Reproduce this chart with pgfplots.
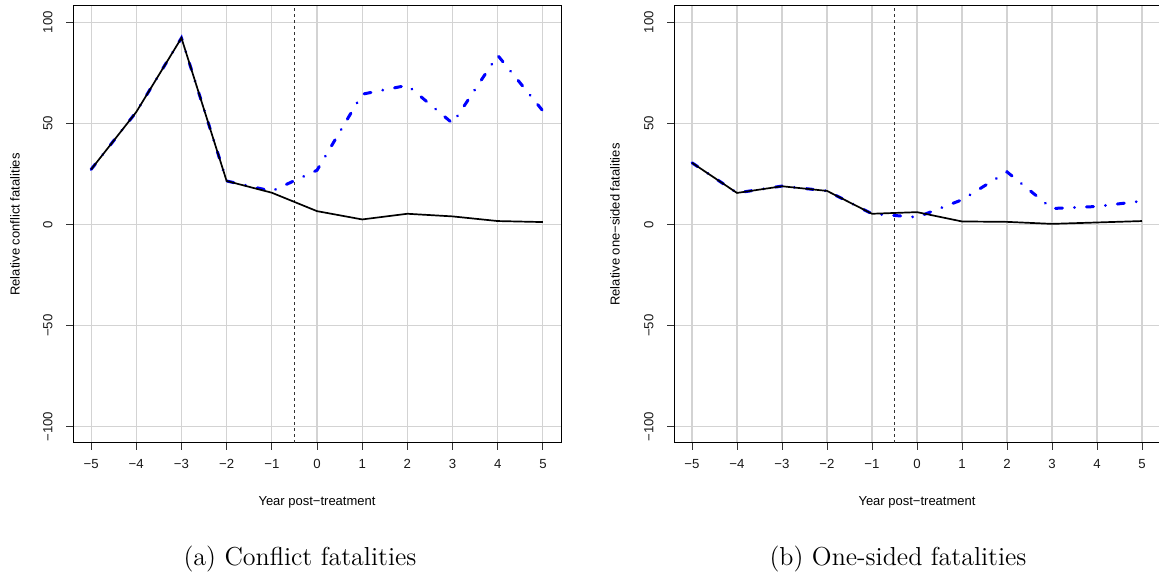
\documentclass[border=0pt]{standalone}
\usepackage{fontspec}
\setsansfont{Liberation Sans}
\usepackage{pgfplots}
\pgfplotsset{compat=1.18}
\definecolor{gridgray}{HTML}{D3D3D3}
\definecolor{rblue}{RGB}{0,0,255}
\pgfplotsset{
  rstyle/.style={
    scale only axis,
    width=244pt, height=218.5pt,
    xmin=-5.4, xmax=5.4, ymin=-108, ymax=108,
    xtick={-5,-4,-3,-2,-1,0,1,2,3,4,5},
    xticklabels={−5,−4,−3,−2,−1,0,1,2,3,4,5},
    ytick={-100,-50,0,50,100},
    yticklabels={−100,−50,0,50,100},
    xtick pos=left, ytick pos=left,
    tick align=outside,
    major tick length=3.5pt,
    tick style={black!80, line width=0.5pt},
    axis line style={line width=0.5pt},
    grid=major,
    major grid style={gridgray, line width=0.55pt},
    every tick label/.append style={font=\sffamily\fontsize{6.6}{7}\selectfont, text=black!90},
    xticklabel style={inner sep=4.5pt},
    yticklabel style={rotate=90, anchor=south, inner sep=6.5pt},
    label style={font=\sffamily\fontsize{6.5}{7}\selectfont},
    xlabel={Year post−treatment},
    xlabel style={at={(axis description cs:0.5,-0.135)}, anchor=center},
    clip=true,
  },
  blueline/.style={rblue, line width=1.5pt, line cap=round, dash pattern=on 3.5pt off 6pt on 0.01pt off 6pt},
  blackline/.style={black, line width=0.85pt},
  vline/.style={black!80, line width=0.6pt, dash pattern=on 1.5pt off 1.5pt},
}
\begin{document}
\begin{tikzpicture}
\path[use as bounding box] (0,0) rectangle (579.5pt,288pt);

\begin{axis}[rstyle, at={(36.5pt,66.5pt)}, anchor=south west,
  ylabel={Relative conflict fatalities},
  ylabel style={at={(axis description cs:-0.1189,0.5)}, anchor=center}]
\addplot[vline] coordinates {(-0.5,-108) (-0.5,108)};
\addplot[blueline] coordinates {
(-5,27.2) (-4,55.6) (-3,92.2) (-2,21.5) (-1,16.5) (0,26.8) (1,64.4) (2,68.8) (3,50.0) (4,83.6) (5,56.1)};
\addplot[blackline] coordinates {
(-5,27.2) (-4,55.6) (-3,92.2) (-2,21.5) (-1,15.7) (0,6.6) (1,2.5) (2,5.3) (3,4.0) (4,1.7) (5,1.2)};
\end{axis}

\begin{axis}[rstyle, at={(337pt,66.5pt)}, anchor=south west, width=243pt,
  ylabel={Relative one−sided fatalities},
  ylabel style={at={(axis description cs:-0.1214,0.5)}, anchor=center}]
\addplot[vline] coordinates {(-0.5,-108) (-0.5,108)};
\addplot[blueline] coordinates {
(-5,30.5) (-4,15.6) (-3,19.0) (-2,16.6) (-1,5.3) (0,3.6) (1,12.2) (2,26.0) (3,7.9) (4,8.9) (5,11.6)};
\addplot[blackline] coordinates {
(-5,30.5) (-4,15.6) (-3,18.9) (-2,16.6) (-1,5.3) (0,6.1) (1,1.5) (2,1.3) (3,0.3) (4,1.0) (5,1.7)};
\end{axis}

\node[anchor=base, font=\rmfamily\fontsize{13}{15}\selectfont] at (150pt,5pt) {(a) Conflict fatalities};
\node[anchor=base, font=\rmfamily\fontsize{13}{15}\selectfont] at (449pt,5pt) {(b) One-sided fatalities};
\end{tikzpicture}
\end{document}
